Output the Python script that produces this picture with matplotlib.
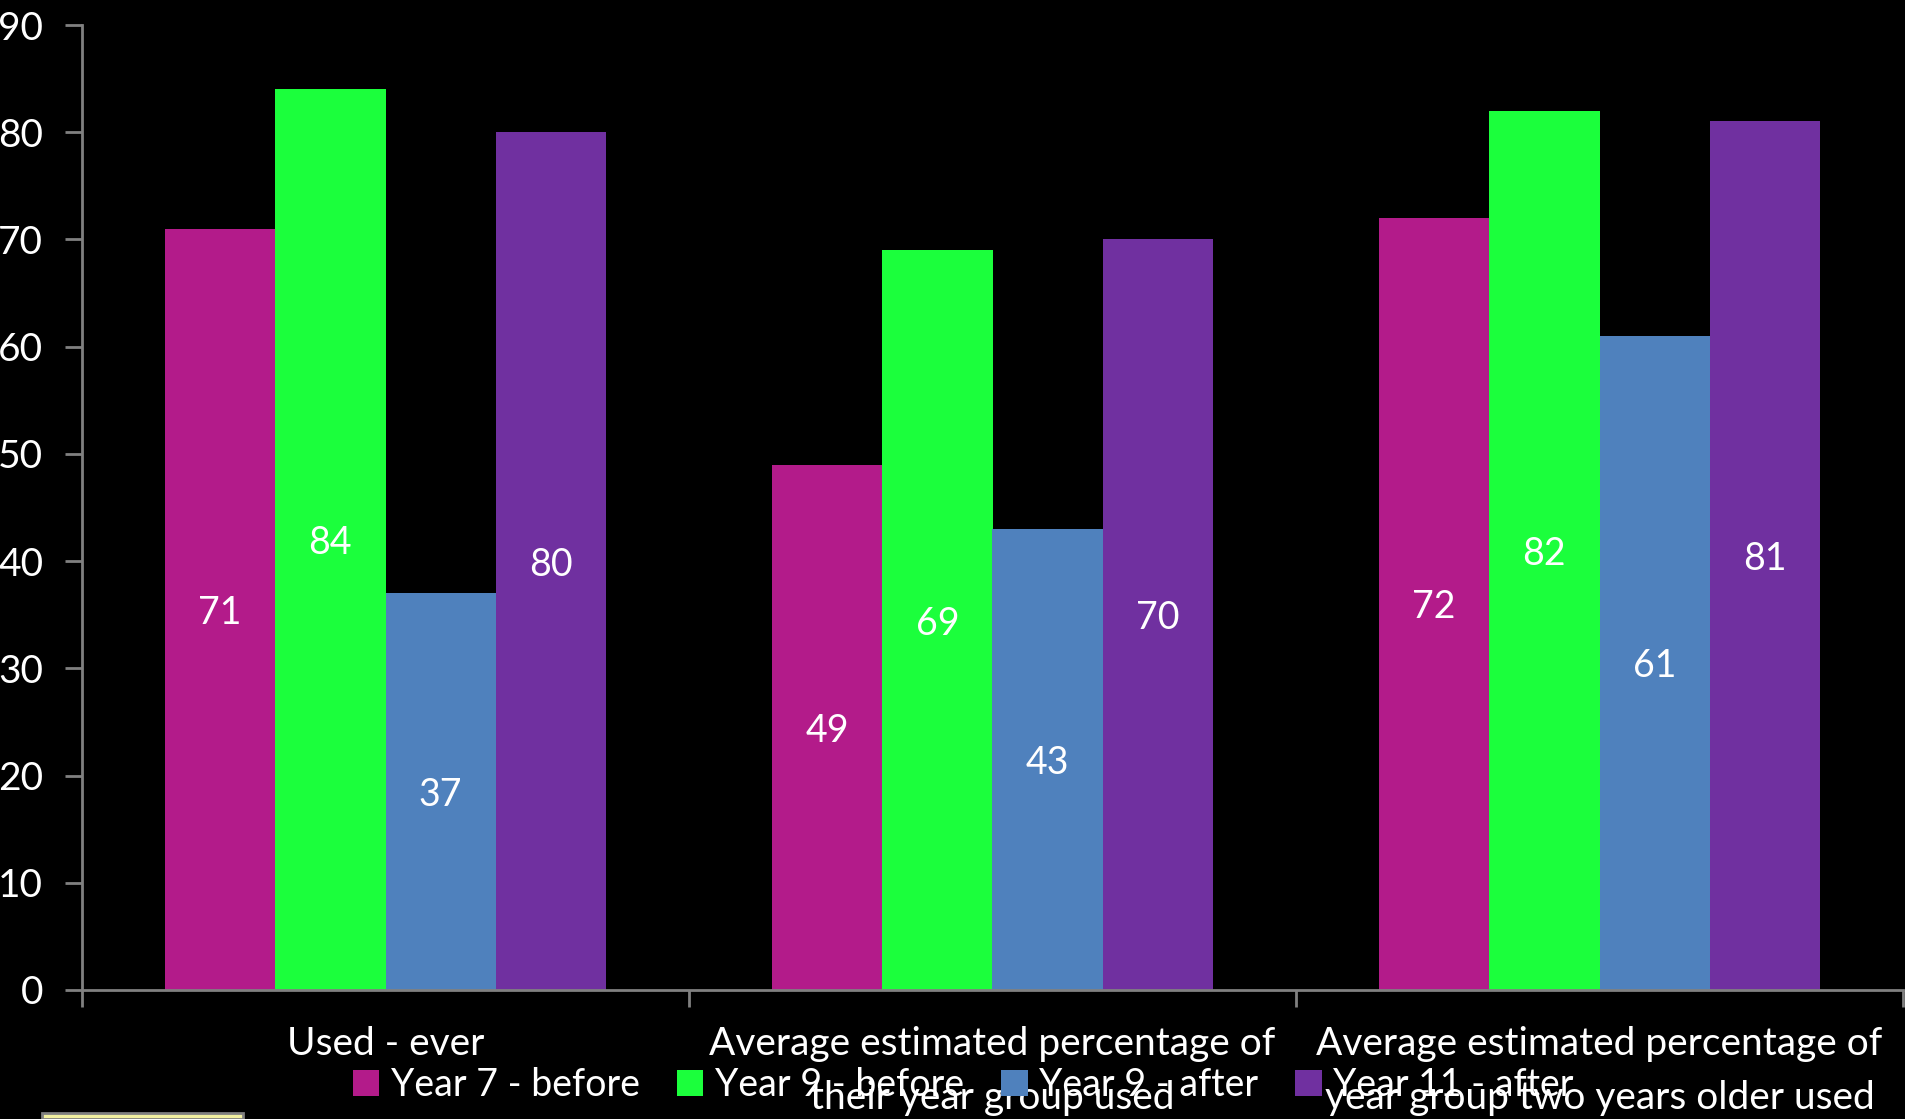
import matplotlib.pyplot as plt
import matplotlib.patches as mpatches
import numpy as np

plt.rcParams['font.family'] = ['Lato', 'DejaVu Sans']

kategori = ['Used - ever',
            'Average estimated percentage of\ntheir year group used',
            'Average estimated percentage of\nyear group two years older used']
seri = ['Year 7 - before', 'Year 9 - before', 'Year 9 - after', 'Year 11 - after']
year7_before = [71, 49, 72]
year9_before = [84, 69, 82]
year9_after = [37, 43, 61]
year11_after = [80, 70, 81]
warna = ['#B31B8A', '#1BFF3C', '#4F81BD', '#7030A0']

data = [year7_before, year9_before, year9_after, year11_after]

fig = plt.figure(figsize=(19.05, 11.19), dpi=100, facecolor='black')
ax = fig.add_axes([82/1905, 1-990/1119, (1903-82)/1905, (990-25)/1119])
ax.set_facecolor('black')

x = np.arange(len(kategori))
w = 1/5.5
for i in range(4):
    pos = x + (i-1.5)*w
    bars = ax.bar(pos, data[i], w, color=warna[i], label=seri[i])
    for b, v in zip(bars, data[i]):
        ax.text(b.get_x()+b.get_width()/2, v/2, str(v), ha='center',
                va='center_baseline', color='white', fontsize=27)

ax.set_xlim(-0.5, 2.5)
ax.set_ylim(0, 90)
ax.set_yticks(range(0, 91, 10))
ax.set_xticks(x)
ax.set_xticklabels(kategori, fontsize=28, color='white', linespacing=1.6)
ax.set_xticks([-0.5, 0.5, 1.5, 2.5], minor=True)
ax.tick_params(axis='x', which='major', length=0, pad=26)
ax.tick_params(axis='x', which='minor', length=12, width=2, color='#808080', direction='out')
ax.tick_params(axis='y', length=12, width=2, color='#808080', labelsize=28,
               labelcolor='white', pad=16)
for s in ['top', 'right']:
    ax.spines[s].set_visible(False)
for s in ['left', 'bottom']:
    ax.spines[s].set_color('#808080')
    ax.spines[s].set_linewidth(2)

leg = fig.legend(loc='center', bbox_to_anchor=(0.5057, 1-1085/1119), ncol=4,
                 frameon=False, fontsize=27, handlelength=0.7, handleheight=0.7,
                 handletextpad=0.3, columnspacing=1.0, borderaxespad=0)
for t in leg.get_texts():
    t.set_color('white')

# kotak kecil di pojok kiri bawah
fig.patches.append(mpatches.Rectangle((42/1905, 0), 201/1905, 6/1119,
                   transform=fig.transFigure, facecolor='#F2F0A0',
                   edgecolor='#808080', linewidth=2))

fig.savefig('out.png', facecolor='black')
